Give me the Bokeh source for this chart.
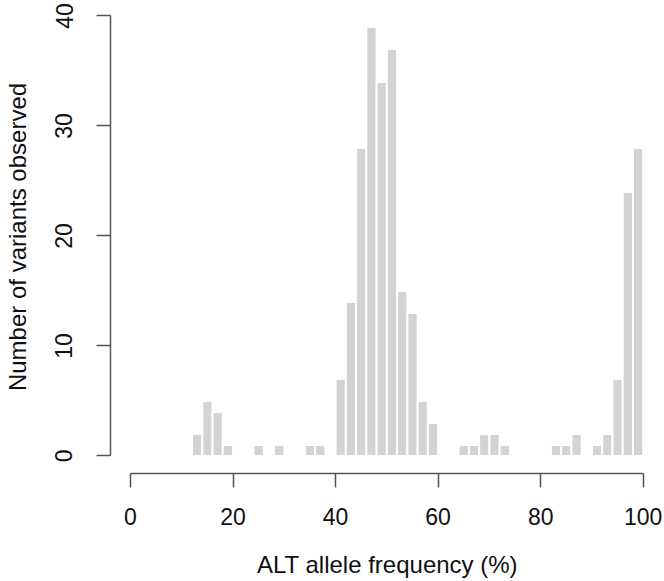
from bokeh.plotting import figure
from bokeh.models import Range1d, FixedTicker
from bokeh.embed import file_html
from bokeh.resources import INLINE

# Histogram of ALT allele frequency, bins of width 2 (%)
bin_left = list(range(0, 100, 2))
counts = [0, 0, 0, 0, 0, 0, 2, 5, 4, 1,
          0, 0, 1, 0, 1, 0, 0, 1, 1, 0,
          7, 14, 28, 39, 34, 37, 15, 13, 5, 3,
          0, 0, 1, 1, 2, 2, 1, 0, 0, 0,
          0, 1, 1, 2, 0, 1, 2, 7, 24, 28]
bin_width = 2
x_ticks = [0, 20, 40, 60, 80, 100]
y_ticks = [0, 10, 20, 30, 40]
x_title = "ALT allele frequency (%)"
y_title = "Number of variants observed"

FONT = "Liberation Sans"

p = figure(width=664, height=581,
           x_range=Range1d(-3.9, 104.15), y_range=Range1d(-1.6, 41.4),
           output_backend="svg", toolbar_location=None,
           min_border_left=110, min_border_right=0,
           min_border_top=0, min_border_bottom=108)

p.quad(left=bin_left, right=[b + bin_width for b in bin_left],
       bottom=0, top=counts, fill_color="#d3d3d3",
       line_color="white", line_width=2)

p.grid.visible = False
p.outline_line_color = None
p.background_fill_color = "white"
p.border_fill_color = "white"

for ax, ticks in ((p.xaxis[0], x_ticks), (p.yaxis[0], y_ticks)):
    ax.ticker = FixedTicker(ticks=ticks)
    ax.bounds = (ticks[0], ticks[-1])
    ax.minor_tick_line_color = None
    ax.major_tick_in = 0
    ax.major_tick_out = 14
    ax.axis_line_color = "#555555"
    ax.major_tick_line_color = "#555555"
    ax.axis_line_width = 1.5
    ax.major_tick_line_width = 1.5
    ax.major_label_text_font = FONT
    ax.major_label_text_font_size = "23px"
    ax.major_label_text_color = "#111111"
    ax.axis_label_text_font = FONT
    ax.axis_label_text_font_size = "24px"
    ax.axis_label_text_font_style = "normal"
    ax.axis_label_text_color = "#111111"

p.xaxis.axis_label = x_title
p.yaxis.axis_label = y_title
p.xaxis.major_label_standoff = 20
p.xaxis.axis_label_standoff = 23
p.yaxis.major_label_orientation = "vertical"
p.yaxis.major_label_standoff = 24
p.yaxis.axis_label_standoff = 22

open("out.html", "w").write(file_html(p, INLINE))
